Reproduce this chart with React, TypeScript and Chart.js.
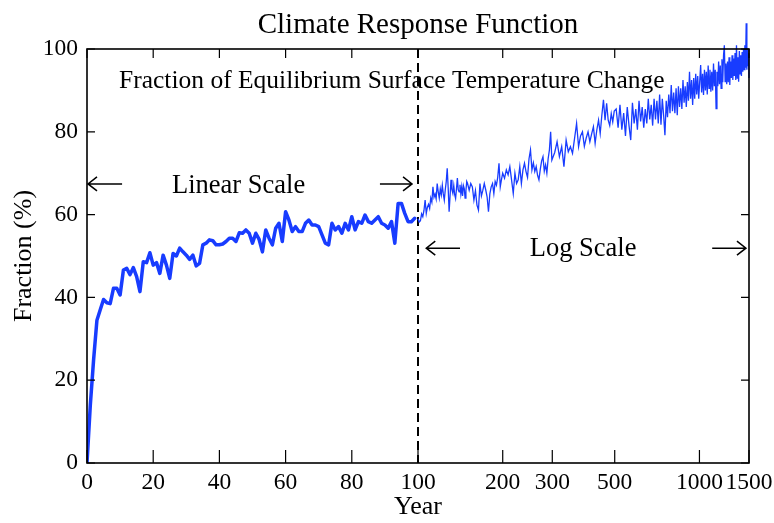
import { useEffect, useRef } from "react";
import { Chart, registerables } from "chart.js";

Chart.register(...registerables);

// ---------------- data ----------------
const linearYears = [
  0, 1, 2, 3, 4, 5, 6, 7, 8, 9, 10, 11, 12, 13, 14, 15, 16, 17, 18, 19,
  20, 21, 22, 23, 24, 25, 26, 27, 28, 29, 30, 31, 32, 33, 34, 35, 36, 37, 38, 39,
  40, 41, 42, 43, 44, 45, 46, 47, 48, 49, 50, 51, 52, 53, 54, 55, 56, 57, 58, 59,
  60, 61, 62, 63, 64, 65, 66, 67, 68, 69, 70, 71, 72, 73, 74, 75, 76, 77, 78, 79,
  80, 81, 82, 83, 84, 85, 86, 87, 88, 89, 90, 91, 92, 93, 94, 95, 96, 97, 98, 99,
];
const linearFraction = [
  0, 14, 25, 34.5, 37, 39.5, 38.7, 38.5, 42.2, 42.2, 40.6, 46.6, 47, 45.5, 47.2, 45, 41.4, 48.6, 48.4, 50.8,
  47.8, 48.4, 45.8, 50.2, 47.8, 44.6, 50.6, 50, 51.9, 51, 50.2, 49.2, 50.2, 47.6, 48.2, 52.7, 53.1, 53.9, 53.7, 52.7,
  52.7, 52.9, 53.5, 54.3, 54.3, 53.5, 55.6, 55.5, 56.3, 55.5, 53.1, 55.5, 54.0, 51.0, 56.3, 54.3, 52.7, 56.7, 57.9, 53.5,
  60.7, 58.7, 55.9, 57.1, 55.9, 55.9, 57.9, 58.7, 57.5, 57.5, 57.1, 55.1, 53.1, 52.7, 57.9, 56.3, 57.1, 55.5, 57.9, 56.3,
  59.5, 56.3, 58.3, 57.9, 59.9, 58.3, 57.9, 58.7, 59.5, 57.9, 57.5, 56.7, 58.3, 53.1, 62.7, 62.7, 60.3, 58.3, 58.3, 59.1,
];

const logYears = [
  100, 101, 102, 103, 104, 105, 106, 107, 108, 109, 110, 111, 112, 113, 114, 115, 116, 117, 118, 119,
  120, 121, 122, 123, 124, 125, 126, 127, 128, 129, 130, 131, 132, 133, 134, 135, 136, 137, 138, 139,
  140, 141, 142, 143, 144, 145, 146, 147, 148, 149, 150,
  152, 154, 156, 158, 160, 162, 164, 166, 168, 170, 172, 174, 176, 178, 180, 182, 184, 186, 188, 190,
  192, 194, 196, 198, 200,
  203, 206, 209, 212, 215, 218, 221, 224, 227, 230, 233, 236, 239, 242, 245, 248, 251, 254, 257, 260,
  263, 266, 269, 272, 275, 278, 281, 284, 287, 290, 293, 296, 299,
  306, 312, 318, 324, 330, 336, 342, 348, 354, 360, 366, 372, 378, 384, 390, 396, 402, 408, 414, 420,
  426, 432, 438, 444, 450, 456, 462, 468, 474, 480, 486, 492, 498,
  506, 514, 522, 530, 538, 546, 554, 562, 570, 578, 586, 594, 602, 610, 618, 626, 634, 642, 650, 658,
  666, 674, 682, 690, 698, 706, 714, 722, 730, 738, 746, 754, 762, 770, 778, 786, 794, 802, 810, 818,
  826, 834, 842, 850, 858, 866, 874, 882, 890, 898, 906, 914, 922, 930, 938, 946, 954, 962, 970, 978,
  986, 994, 1002,
  1010, 1018, 1026, 1034, 1042, 1050, 1058, 1066, 1074, 1082, 1090, 1098, 1106, 1114, 1122, 1130, 1138, 1146, 1154, 1162,
  1170, 1178, 1186, 1194, 1202, 1210, 1218, 1226, 1234, 1242, 1250, 1258, 1266, 1274, 1282, 1290, 1298, 1306, 1314, 1322,
  1330, 1338, 1346, 1354, 1362, 1370, 1378, 1386, 1394, 1402, 1410, 1418, 1426, 1434, 1442, 1450, 1458, 1466, 1474, 1482,
  1490, 1498, 1500,
];
const logFraction = [
  59.0, 58.2, 58.5, 60.2, 59.5, 61.0, 63.5, 60.3, 61.8, 62.5, 61.5, 64.0, 63.0, 66.7, 64.2, 65.0, 63.8, 67.5, 65.5, 64.0,
  66.2, 64.8, 67.1, 65.0, 63.5, 66.0, 68.0, 71.2, 66.5, 60.7, 64.5, 68.4, 66.0, 65.1, 67.0, 64.8, 63.9, 66.2, 68.8, 66.0,
  65.5, 67.2, 65.0, 66.7, 64.5, 67.0, 66.3, 64.0, 65.8, 68.0, 67.5,
  65.9, 67.5, 66.7, 63.5, 65.8, 62.3, 61.1, 67.5, 64.5, 65.9, 67.5, 66.0, 64.3, 60.7, 65.0, 66.7, 67.5, 65.1, 68.0, 67.1,
  69.0, 72.4, 66.7, 68.5, 70.0,
  68.8, 70.8, 69.6, 71.6, 68.4, 65.1, 70.0, 67.5, 68.4, 71.6, 67.5, 70.8, 72.4, 70.4, 69.0, 73.5, 75.6, 70.8, 72.5, 70.4,
  71.6, 69.5, 68.4, 71.0, 73.0, 74.0, 70.5, 72.0, 70.0, 73.5, 75.6, 80.0, 73.2,
  75.0, 77.6, 74.0, 76.4, 71.6, 78.0, 75.2, 76.4, 74.8, 78.4, 82.0, 76.4, 79.0, 80.0, 76.5, 78.5, 80.0, 77.6, 79.5, 81.2,
  77.2, 80.5, 82.8, 79.6, 84.0, 87.7, 82.8, 86.9, 82.8, 81.5, 84.4, 82.4, 85.0,
  85.5, 81.0, 86.5, 80.5, 84.5, 79.0, 86.0, 81.5, 78.0, 87.0, 82.0, 85.5, 80.5, 87.5, 82.5, 86.0, 81.0, 85.5, 82.0, 88.0,
  83.0, 86.5, 81.5, 88.0, 83.0, 87.5, 82.0, 89.0, 81.7, 88.0, 84.0, 79.2, 87.5, 83.5, 89.0, 84.5, 91.3, 85.0, 89.5, 84.5,
  90.5, 84.0, 91.0, 86.0, 90.5, 85.5, 92.5, 87.0, 91.0, 86.0, 92.0, 87.5, 94.5, 88.0, 92.5, 86.5, 93.0, 88.0, 94.0, 89.0,
  93.5, 88.0, 92.0,
  96.1, 89.5, 94.0, 88.9, 95.0, 90.0, 94.5, 89.0, 96.0, 90.5, 95.0, 89.7, 94.5, 90.0, 96.5, 91.0, 95.0, 85.6, 94.5, 91.0,
  97.0, 91.5, 96.0, 90.5, 97.5, 92.0, 98.5, 100.9, 92.1, 96.5, 91.5, 97.0, 92.0, 98.0, 91.3, 97.0, 93.0, 98.5, 92.5, 97.7,
  93.5, 99.0, 92.5, 100.9, 93.0, 98.0, 92.1, 99.5, 94.0, 98.5, 93.5, 99.3, 94.5, 100.0, 95.0, 100.9, 95.5, 106.2, 95.0, 100.0,
  96.0, 99.0, 93.0,
];

const linearTicks = [0, 20, 40, 60, 80, 100];
const logTicks = [200, 300, 500, 1000, 1500];
const yTicks = [0, 20, 40, 60, 80, 100];

const titleText = "Climate Response Function";
const xTitle = "Year";
const yTitle = "Fraction (%)";
const noteText = "Fraction of Equilibrium Surface Temperature Change";
const linearLabel = "Linear Scale";
const logLabel = "Log Scale";

// ---------------- styles ----------------
const BLUE = "rgb(24, 60, 255)";
const SERIF = "'Liberation Serif', 'Times New Roman', serif";

function drawArrow(ctx: CanvasRenderingContext2D, x1: number, x2: number, y: number, headLeft: boolean) {
  ctx.save();
  ctx.strokeStyle = "#000";
  ctx.lineWidth = 1.5;
  ctx.beginPath();
  ctx.moveTo(x1, y);
  ctx.lineTo(x2, y);
  const hx = headLeft ? x1 : x2;
  const d = headLeft ? 1 : -1;
  ctx.moveTo(hx + d * 9, y - 7);
  ctx.lineTo(hx, y);
  ctx.lineTo(hx + d * 9, y + 7);
  ctx.stroke();
  ctx.restore();
}

const decorPlugin = {
  id: "decor",
  beforeDatasetsDraw(chart: any) {
    const { ctx, chartArea, scales } = chart;
    const xd = scales.x.getPixelForValue(100);
    ctx.save();
    ctx.strokeStyle = "#000";
    ctx.lineWidth = 2;
    ctx.setLineDash([9, 5]);
    ctx.beginPath();
    ctx.moveTo(xd, chartArea.top);
    ctx.lineTo(xd, chartArea.bottom);
    ctx.stroke();
    ctx.restore();
  },
  afterDatasetsDraw(chart: any) {
    const { ctx, chartArea, scales } = chart;
    const { left, right, top, bottom } = chartArea;
    const sx = scales.x;
    const sl = scales.xLog;
    const sy = scales.y;
    ctx.save();
    // frame
    ctx.strokeStyle = "#000";
    ctx.lineWidth = 1.6;
    ctx.strokeRect(left, top, right - left, bottom - top);
    // inward ticks
    ctx.lineWidth = 1.2;
    ctx.beginPath();
    const xPix = [
      ...linearTicks.map((v) => sx.getPixelForValue(v)),
      ...logTicks.map((v) => sl.getPixelForValue(v)),
    ];
    for (const px of xPix) {
      ctx.moveTo(px, bottom);
      ctx.lineTo(px, bottom - 13);
      ctx.moveTo(px, top);
      ctx.lineTo(px, top + 9);
    }
    for (const v of yTicks) {
      const py = sy.getPixelForValue(v);
      ctx.moveTo(left, py);
      ctx.lineTo(left + 8, py);
      ctx.moveTo(right, py);
      ctx.lineTo(right - 8, py);
    }
    ctx.stroke();

    // texts
    ctx.fillStyle = "#000";
    ctx.textAlign = "center";
    ctx.textBaseline = "alphabetic";
    ctx.font = `29px ${SERIF}`;
    ctx.fillText(titleText, (left + right) / 2, 33);
    ctx.font = `26px ${SERIF}`;
    ctx.fillText(xTitle, (left + right) / 2, 514);
    ctx.save();
    ctx.translate(31, (top + bottom) / 2);
    ctx.rotate(-Math.PI / 2);
    ctx.fillText(yTitle, 0, 0);
    ctx.restore();

    ctx.font = `25.5px ${SERIF}`;
    ctx.fillText(noteText, sx.getPixelForValue(92.1), sy.getPixelForValue(90.6));
    ctx.font = `26.5px ${SERIF}`;
    ctx.fillText(linearLabel, sx.getPixelForValue(45.8), sy.getPixelForValue(65.2));
    ctx.fillText(logLabel, sl.getPixelForValue(386), sy.getPixelForValue(49.9));
    ctx.restore();

    const yA = sy.getPixelForValue(67.4);
    drawArrow(ctx, sx.getPixelForValue(0.3), sx.getPixelForValue(10.6), yA, true);
    drawArrow(ctx, sx.getPixelForValue(88.5), sx.getPixelForValue(98.2), yA, false);
    const yB = sy.getPixelForValue(51.9);
    drawArrow(ctx, sl.getPixelForValue(107), sl.getPixelForValue(141), yB, true);
    drawArrow(ctx, sl.getPixelForValue(1110), sl.getPixelForValue(1463), yB, false);
  },
};

function zeroPad(s: any) {
  s.paddingLeft = 0;
  s.paddingRight = 0;
  s.paddingTop = 0;
  s.paddingBottom = 0;
}

export default function App() {
  const canvasRef = useRef<HTMLCanvasElement | null>(null);

  useEffect(() => {
    const canvas = canvasRef.current;
    if (!canvas) return;
    const tickFont = { family: SERIF, size: 23.5 };
    const chart = new Chart(canvas, {
      type: "line",
      data: {
        datasets: [
          {
            label: "linear",
            xAxisID: "x",
            yAxisID: "y",
            data: linearYears.map((x, i) => ({ x, y: linearFraction[i] })),
            borderColor: BLUE,
            borderWidth: 3.5,
            pointRadius: 0,
            tension: 0,
            borderJoinStyle: "round",
            borderCapStyle: "round",
          },
          {
            label: "log",
            xAxisID: "xLog",
            yAxisID: "y",
            data: logYears.map((x, i) => ({ x, y: logFraction[i] })),
            borderColor: BLUE,
            borderWidth: 1.3,
            pointRadius: 0,
            tension: 0,
            clip: false,
          },
        ],
      },
      options: {
        animation: false,
        responsive: true,
        maintainAspectRatio: false,
        devicePixelRatio: 1,
        layout: { padding: { left: 0, top: 49, right: 25, bottom: 0 } },
        plugins: { legend: { display: false }, tooltip: { enabled: false }, title: { display: false } },
        scales: {
          x: {
            type: "linear",
            position: "bottom",
            stack: "xs",
            stackWeight: 1,
            min: 0,
            max: 100,
            grid: { display: false, drawTicks: false },
            border: { display: false },
            afterBuildTicks: (s: any) => {
              s.ticks = linearTicks.map((v) => ({ value: v }));
            },
            ticks: {
              autoSkip: false,
              maxRotation: 0,
              padding: 6,
              color: "#000",
              font: tickFont,
              callback: (v: any) => String(v),
            },
            afterFit: (s: any) => {
              s.height = 60;
              zeroPad(s);
            },
          },
          xLog: {
            type: "logarithmic",
            position: "bottom",
            stack: "xs",
            stackWeight: 1,
            min: 100,
            max: 1500,
            grid: { display: false, drawTicks: false },
            border: { display: false },
            afterBuildTicks: (s: any) => {
              s.ticks = logTicks.map((v) => ({ value: v }));
            },
            ticks: {
              autoSkip: false,
              maxRotation: 0,
              padding: 6,
              color: "#000",
              font: tickFont,
              callback: (v: any) => String(v),
            },
            afterFit: (s: any) => {
              s.height = 60;
              zeroPad(s);
            },
          },
          y: {
            type: "linear",
            position: "left",
            min: 0,
            max: 100,
            grid: { display: false, drawTicks: false },
            border: { display: false },
            afterBuildTicks: (s: any) => {
              s.ticks = yTicks.map((v) => ({ value: v }));
            },
            ticks: {
              padding: 9,
              color: "#000",
              font: tickFont,
              callback: (v: any) => String(v),
            },
            afterFit: (s: any) => {
              s.width = 87;
              zeroPad(s);
            },
          },
        },
      },
      plugins: [decorPlugin],
    } as any);
    return () => chart.destroy();
  }, []);

  return (
    <div style={{ position: "fixed", left: 0, top: 0, width: 774, height: 523, background: "#fff" }}>
      <canvas ref={canvasRef} />
    </div>
  );
}
